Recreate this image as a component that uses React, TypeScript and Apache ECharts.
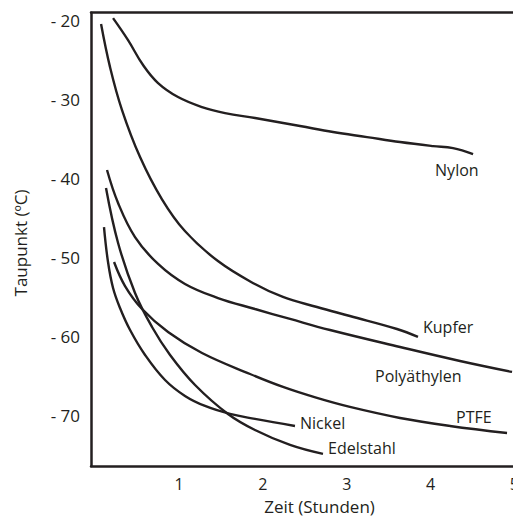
import React, { useEffect, useRef } from "react";
import * as echarts from "echarts";

const INK = "#231f20";
const FONT = "'Open Sans', 'Noto Sans', sans-serif";

// Curves (Zeit in Stunden, Taupunkt in °C)
const nylonX = [0.213, 0.392, 0.571, 0.75, 0.988, 1.274, 1.549, 1.907, 2.443, 2.837, 3.242, 3.636, 4.03, 4.268, 4.507];
const nylonY = [-19.68, -22.47, -25.63, -27.91, -29.68, -30.95, -31.71, -32.34, -33.35, -34.11, -34.75, -35.38, -35.89, -36.14, -36.9];

const kupferX = [0.07, 0.177, 0.32, 0.535, 0.795, 1.07, 1.464, 1.905, 2.239, 2.645, 3.038, 3.599, 3.85];
const kupferY = [-20.44, -25.89, -31.33, -37.28, -42.6, -46.65, -50.45, -53.36, -55.0, -56.27, -57.41, -59.05, -60.06];

const polyX = [0.141, 0.273, 0.475, 0.75, 1.071, 1.465, 1.906, 2.324, 2.801, 3.636, 4.351, 4.972];
const polyY = [-38.92, -43.1, -47.41, -50.82, -53.35, -55.13, -56.52, -57.78, -59.18, -61.33, -63.1, -64.49];

const ptfeX = [0.225, 0.356, 0.559, 0.869, 1.274, 1.847, 2.24, 2.645, 3.038, 3.636, 4.232, 4.912];
const ptfeY = [-50.57, -53.61, -56.52, -59.43, -62.09, -64.75, -66.39, -67.78, -68.92, -70.32, -71.33, -72.22];

const nickelX = [0.105, 0.153, 0.213, 0.296, 0.416, 0.595, 0.833, 1.071, 1.31, 1.608, 1.906, 2.383];
const nickelY = [-46.14, -50.57, -53.86, -56.39, -59.18, -62.34, -65.51, -67.53, -68.8, -69.81, -70.44, -71.33];

const edelX = [0.129, 0.273, 0.475, 0.678, 0.893, 1.191, 1.584, 1.906, 2.324, 2.717];
const edelY = [-41.2, -48.16, -54.49, -58.8, -62.34, -66.14, -69.81, -71.84, -73.73, -74.87];

const xTicks = [1, 2, 3, 4, 5];
const yTicks = [-70, -60, -50, -40, -30, -20];

const seriesDefs = [
  { name: "Nylon", xs: nylonX, ys: nylonY, dx: -38, dy: 16 },
  { name: "Kupfer", xs: kupferX, ys: kupferY, dx: 5, dy: -10 },
  { name: "Polyäthylen", xs: polyX, ys: polyY, dx: -137, dy: 4 },
  { name: "PTFE", xs: ptfeX, ys: ptfeY, dx: -51, dy: -16 },
  { name: "Nickel", xs: nickelX, ys: nickelY, dx: 5, dy: -3 },
  { name: "Edelstahl", xs: edelX, ys: edelY, dx: 5, dy: -6 },
];

const X_MIN = -0.05;
const X_MAX = 5;
const Y_MIN = -76.4;
const Y_MAX = -19.0;

export default function App() {
  const ref = useRef<HTMLDivElement>(null);

  useEffect(() => {
    if (!ref.current) return;
    const chart = echarts.init(ref.current, null, { renderer: "svg" });

    const axisLineStyle = { color: INK, width: 2.5 };

    chart.setOption({
      animation: false,
      backgroundColor: "#ffffff",
      grid: {
        left: 91,
        top: 12.7,
        right: -1.4,
        bottom: 50,
        containLabel: false,
        outerBoundsMode: "none",
      },
      xAxis: [
        {
          type: "value",
          min: X_MIN,
          max: X_MAX,
          position: "bottom",
          axisLine: { show: true, onZero: false, lineStyle: axisLineStyle },
          axisTick: { show: false },
          splitLine: { show: false },
          axisLabel: {
            show: true,
            customValues: xTicks,
            color: INK,
            fontFamily: FONT,
            fontSize: 16,
            margin: 10,
          },
        },
        {
          type: "value",
          min: X_MIN,
          max: X_MAX,
          position: "top",
          axisLine: { show: true, onZero: false, lineStyle: axisLineStyle },
          axisTick: { show: false },
          splitLine: { show: false },
          axisLabel: { show: false },
        },
      ],
      yAxis: {
        type: "value",
        min: Y_MIN,
        max: Y_MAX,
        axisLine: { show: true, onZero: false, lineStyle: axisLineStyle },
        axisTick: { show: false },
        splitLine: { show: false },
        axisLabel: {
          show: true,
          customValues: yTicks,
          color: INK,
          fontFamily: FONT,
          fontSize: 17,
          margin: 11,
          formatter: (v: number) => "- " + Math.abs(v),
        },
      },
      series: seriesDefs.map((s) => ({
        name: s.name,
        type: "line",
        xAxisIndex: 0,
        yAxisIndex: 0,
        data: s.xs.map((x, i) => [x, s.ys[i]]),
        smooth: 0.4,
        showSymbol: false,
        symbol: "none",
        lineStyle: { color: INK, width: 2.4 },
        itemStyle: { color: INK },
        silent: true,
      })),
    });

    const labels = seriesDefs.map((s) => {
      const last = [s.xs[s.xs.length - 1], s.ys[s.ys.length - 1]];
      const p = chart.convertToPixel({ gridIndex: 0 }, last) as number[];
      return {
        type: "text",
        x: p[0] + s.dx,
        y: p[1] + s.dy,
        style: {
          text: s.name,
          fill: INK,
          font: `16px ${FONT}`,
          align: "left",
          verticalAlign: "middle",
        },
        silent: true,
      };
    });

    chart.setOption({
      graphic: [
        ...labels,
        {
          type: "text",
          x: 319.5,
          y: 506,
          style: {
            text: "Zeit (Stunden)",
            fill: INK,
            font: `17px ${FONT}`,
            align: "center",
            verticalAlign: "middle",
          },
          silent: true,
        },
        {
          type: "text",
          x: 20,
          y: 243,
          rotation: Math.PI / 2,
          style: {
            text: "Taupunkt (ºC)",
            fill: INK,
            font: `17px ${FONT}`,
            align: "center",
            verticalAlign: "middle",
          },
          silent: true,
        },
      ],
    });

    return () => chart.dispose();
  }, []);

  return (
    <div
      ref={ref}
      style={{ position: "absolute", left: 0, top: 0, width: 513, height: 516 }}
    />
  );
}
